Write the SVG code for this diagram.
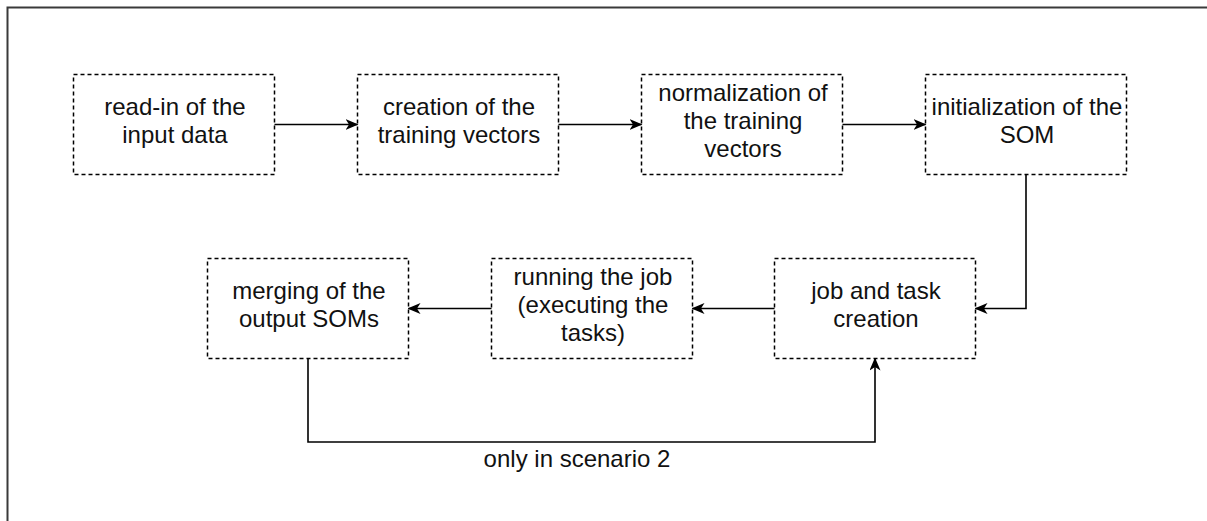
<svg xmlns="http://www.w3.org/2000/svg" width="1207" height="521" viewBox="0 0 1207 521">
<style>
.box{fill:#fff;stroke:#000;stroke-width:1.5;stroke-dasharray:4 3}
.lbl{font-family:"Liberation Sans",Arial,sans-serif;font-size:24px;fill:#111;text-anchor:middle}
.conn{fill:none;stroke:#000;stroke-width:1.6}
</style>
<defs>
<marker id="arr" viewBox="0 0 13 11" refX="12" refY="5.5" markerWidth="13" markerHeight="11" markerUnits="userSpaceOnUse" orient="auto">
<path d="M0,0 L13,5.5 L0,11 L3.5,5.5 Z" fill="#000"/>
</marker>
</defs>
<rect width="1207" height="521" fill="#fff"/>
<path d="M7.5,521 V7.5 H1207" fill="none" stroke="#3a3a3a" stroke-width="2"/>
<g id="n1"><rect class="box" x="73.5" y="74.5" width="201" height="100"/><text class="lbl" x="175" y="115">read-in of the</text><text class="lbl" x="175" y="143">input data</text></g>
<g id="n2"><rect class="box" x="357.5" y="74.5" width="201" height="100"/><text class="lbl" x="459" y="115">creation of the</text><text class="lbl" x="459" y="143">training vectors</text></g>
<g id="n3"><rect class="box" x="641.5" y="74.5" width="201" height="100"/><text class="lbl" x="743" y="101">normalization of</text><text class="lbl" x="743" y="129">the training</text><text class="lbl" x="743" y="157">vectors</text></g>
<g id="n4"><rect class="box" x="925.5" y="74.5" width="201" height="100"/><text class="lbl" x="1027" y="115">initialization of the</text><text class="lbl" x="1027" y="143">SOM</text></g>
<g id="n5"><rect class="box" x="774.5" y="258.5" width="201" height="100"/><text class="lbl" x="876" y="299">job and task</text><text class="lbl" x="876" y="327">creation</text></g>
<g id="n6"><rect class="box" x="491.5" y="258.5" width="201" height="100"/><text class="lbl" x="593" y="285">running the job</text><text class="lbl" x="593" y="313">(executing the</text><text class="lbl" x="593" y="341">tasks)</text></g>
<g id="n7"><rect class="box" x="207.5" y="258.5" width="201" height="100"/><text class="lbl" x="309" y="299">merging of the</text><text class="lbl" x="309" y="327">output SOMs</text></g>
<g id="connectors">
<path class="conn" d="M274.5,124.5 H357.5" marker-end="url(#arr)"/>
<path class="conn" d="M558.5,124.5 H641.5" marker-end="url(#arr)"/>
<path class="conn" d="M842.5,124.5 H925.5" marker-end="url(#arr)"/>
<path class="conn" d="M1026,174.5 V308.5 H975.5" marker-end="url(#arr)"/>
<path class="conn" d="M774.5,308.5 H692.5" marker-end="url(#arr)"/>
<path class="conn" d="M491.5,308.5 H408.5" marker-end="url(#arr)"/>
<path class="conn" d="M308,358.5 V442 H875 V358.5" marker-end="url(#arr)"/>
<text class="lbl" x="577" y="467">only in scenario 2</text>
</g>
</svg>
